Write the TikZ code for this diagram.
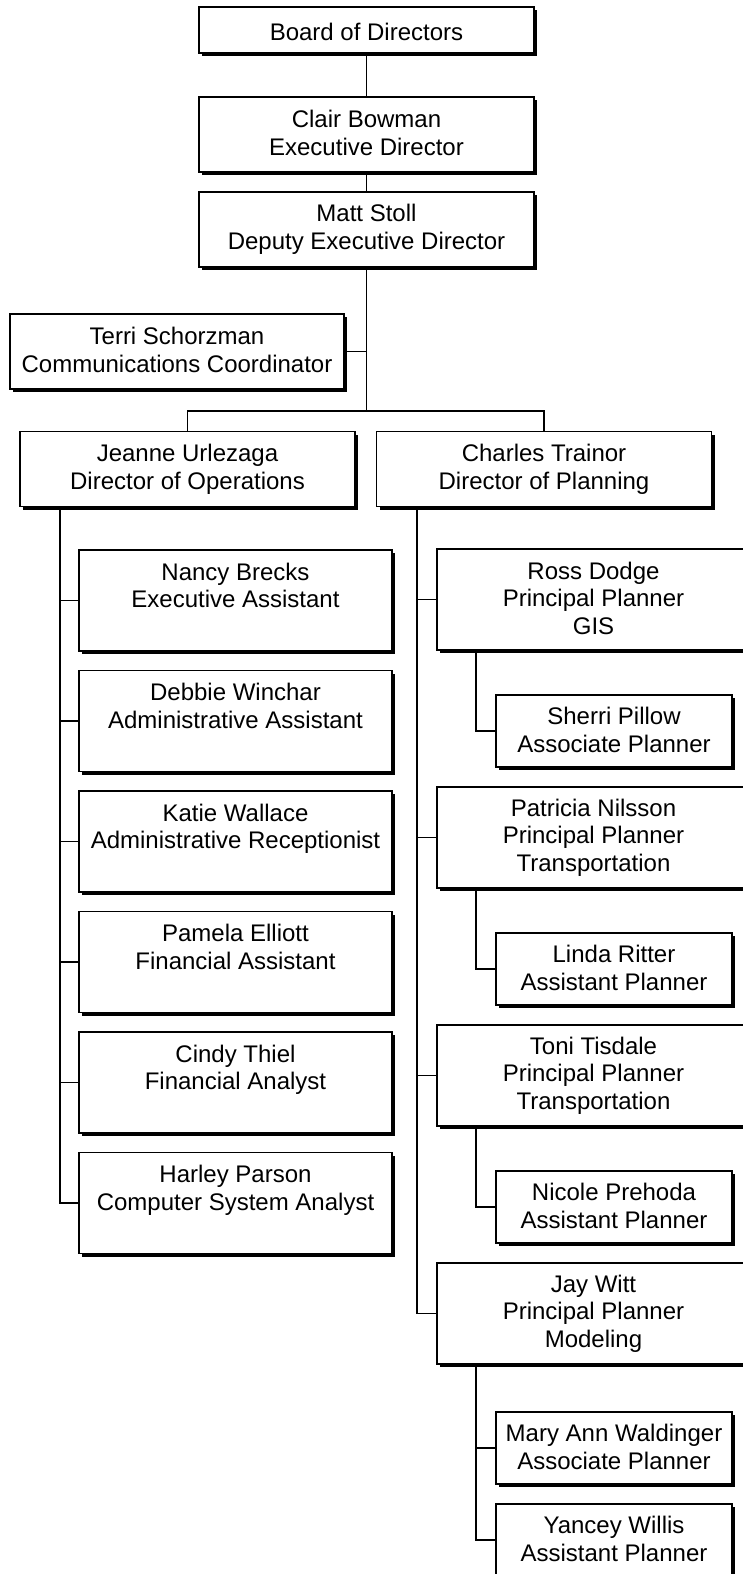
\documentclass[tikz,border=0pt]{standalone}
\usepackage{fontspec}
\setmainfont{Liberation Sans}
\usetikzlibrary{positioning, shadows}
\newcommand{\histrut}{\rule{0pt}{24pt}}
\newcommand{\lostrut}{\rule[-3pt]{0pt}{3pt}}
\tikzset{
  box/.style={draw, line width=1.8pt, fill=white, align=center, inner sep=0pt, outer sep=0pt,
    font=\fontsize{24}{27.6}\selectfont,
    execute at begin node=\histrut, execute at end node=\lostrut,
    drop shadow={shadow xshift=3.4pt, shadow yshift=-3.4pt, fill=black, opacity=1}},
  headbox/.style={box, minimum width=335pt, minimum height=75pt},
  staffbox/.style={box, minimum width=313pt, minimum height=101pt},
  subbox/.style={box, minimum width=236pt, minimum height=72pt},
  link/.style={line width=1.2pt},
}

\begin{document}
\begin{tikzpicture}[x=1pt, y=-1pt, node distance=44pt]
\useasboundingbox (0,0) rectangle (743,1574);
\node[headbox, minimum height=46pt] (board) at (366.5,30) {Board of Directors};
\node[headbox, below=of board] (bowman) {Clair Bowman\\Executive Director};
\node[headbox, below=20pt of bowman] (stoll) {Matt Stoll\\Deputy Executive Director};
\node[headbox, minimum width=334pt] (schorzman) at (177,351.5) {Terri Schorzman\\Communications Coordinator};
\node[headbox] (urlezaga) at (187.5,469) {Jeanne Urlezaga\\Director of Operations};
\node[headbox] (trainor) at (544,469) {Charles Trainor\\Director of Planning};
\node[staffbox] (brecks) at (235.5,600.5) {Nancy Brecks\\Executive Assistant\\\mbox{}};
\node[staffbox, below=19.5pt of brecks] (winchar) {Debbie Winchar\\Administrative Assistant\\\mbox{}};
\node[staffbox, below=19.5pt of winchar] (wallace) {Katie Wallace\\Administrative Receptionist\\\mbox{}};
\node[staffbox, below=19.5pt of wallace] (elliott) {Pamela Elliott\\Financial Assistant\\\mbox{}};
\node[staffbox, below=19.5pt of elliott] (thiel) {Cindy Thiel\\Financial Analyst\\\mbox{}};
\node[staffbox, below=19.5pt of thiel] (parson) {Harley Parson\\Computer System Analyst\\\mbox{}};
\node[staffbox] (dodge) at (593.5,599.5) {Ross Dodge\\Principal Planner\\GIS};
\node[subbox] (pillow) at (614,731) {Sherri Pillow\\Associate Planner};
\node[staffbox] (nilsson) at (593.5,837.5) {Patricia Nilsson\\Principal Planner\\Transportation};
\node[subbox] (ritter) at (614,969) {Linda Ritter\\Assistant Planner};
\node[staffbox] (tisdale) at (593.5,1075.5) {Toni Tisdale\\Principal Planner\\Transportation};
\node[subbox] (prehoda) at (614,1207) {Nicole Prehoda\\Assistant Planner};
\node[staffbox] (witt) at (593.5,1313.5) {Jay Witt\\Principal Planner\\Modeling};
\node[subbox] (waldinger) at (614,1448) {Mary Ann Waldinger\\Associate Planner};
\node[subbox, below=20pt of waldinger] (willis) {Yancey Willis\\Assistant Planner};
\coordinate (split) at (366.5,411);
\coordinate (opslane) at (60,0);
\coordinate (planlane) at (417,0);
\coordinate (sublane) at (476,0);
\draw[link] (board) -- (bowman);
\draw[link] (bowman) -- (stoll);
\draw[link] (stoll) -- (split);
\draw[link] (schorzman.east) -- (schorzman.east -| split);
\draw[link] (urlezaga) |- (split) -| (trainor);
\draw[link] (opslane |- urlezaga.south) |- (parson.west);
\foreach \n in {brecks, winchar, wallace, elliott, thiel}
  \draw[link] (opslane |- \n.west) -- (\n.west);
\draw[link] (planlane |- trainor.south) |- (witt.west);
\foreach \n in {dodge, nilsson, tisdale}
  \draw[link] (planlane |- \n.west) -- (\n.west);
\draw[link] (sublane |- dodge.south) |- (pillow.west);
\draw[link] (sublane |- nilsson.south) |- (ritter.west);
\draw[link] (sublane |- tisdale.south) |- (prehoda.west);
\draw[link] (sublane |- witt.south) |- (willis.west);
\draw[link] (sublane |- waldinger.west) -- (waldinger.west);
\end{tikzpicture}
\end{document}
